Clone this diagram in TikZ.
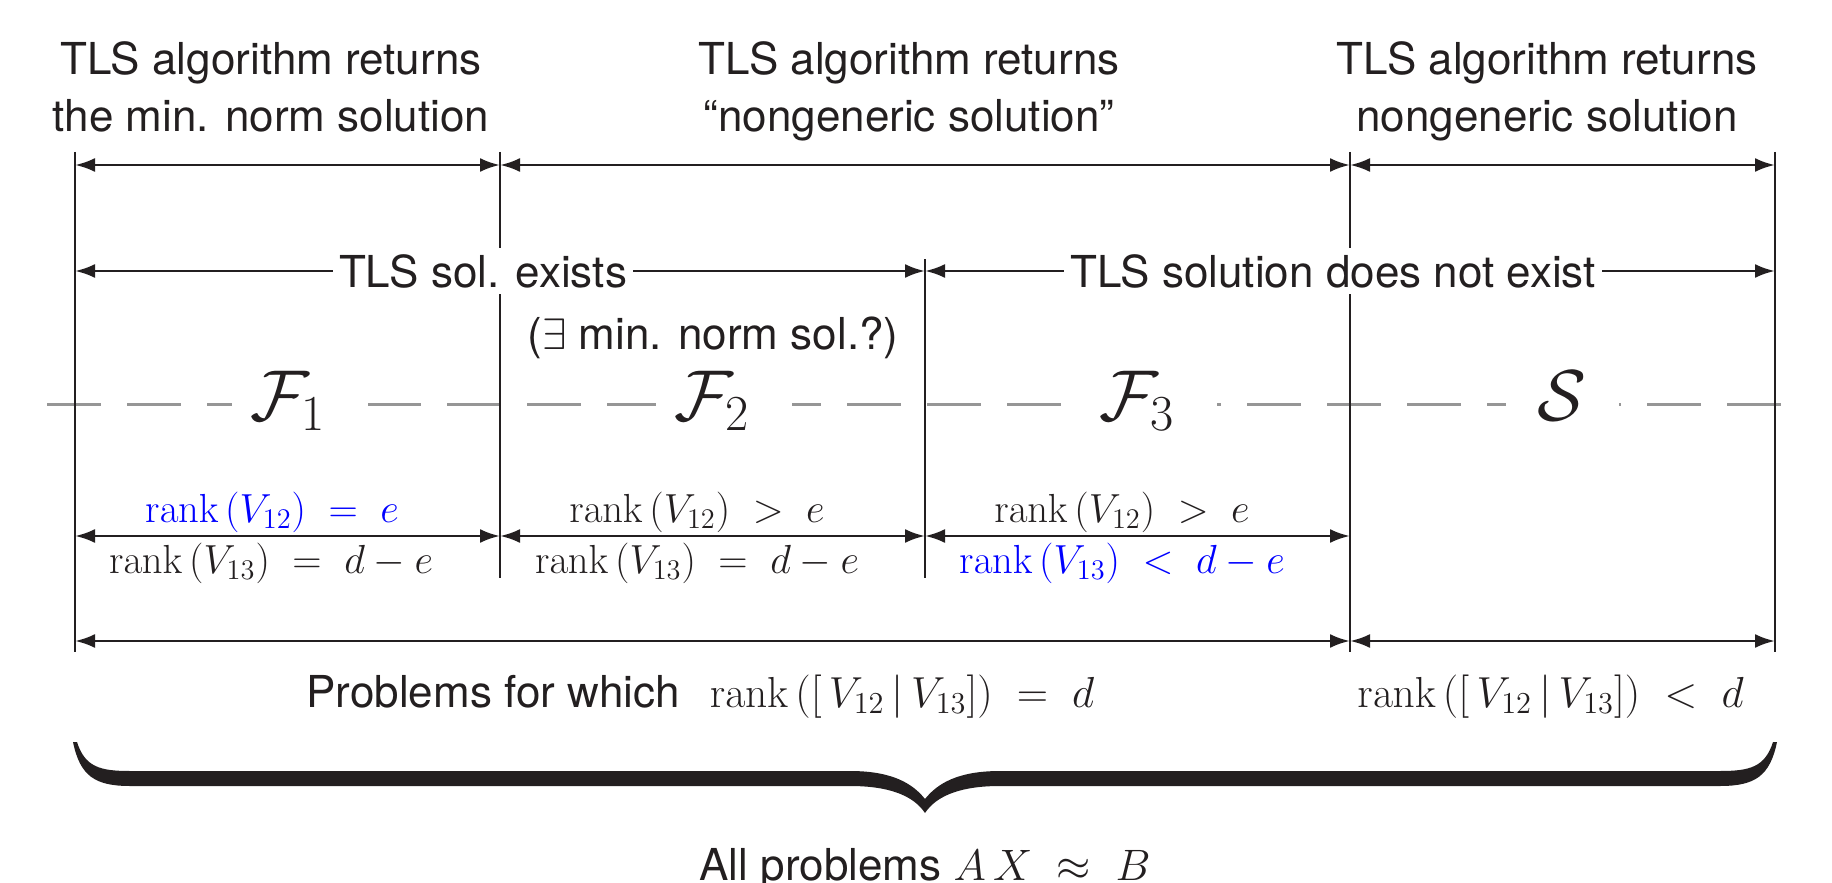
\RequirePackage{fix-cm}
\documentclass[tikz,border=0pt]{standalone}
\usepackage[no-math]{fontspec}
\newfontfamily\hv{TeX Gyre Heros}
\usetikzlibrary{arrows.meta}
\definecolor{ink}{RGB}{35,31,32}
\definecolor{dashgray}{RGB}{150,150,150}
\definecolor{rankblue}{RGB}{0,0,255}
\begin{document}
\begin{tikzpicture}[x=0.5pt,y=-0.5pt,
  vline/.style={line width=1.4pt,draw=ink},
  dimarrow/.style={line width=1.4pt,draw=ink,{Latex[length=10pt,width=7pt]}-{Latex[length=10pt,width=7pt]}},
  sans/.style={font=\hv\fontsize{22}{28.5}\selectfont, text=ink, inner sep=0pt},
  mth/.style={font=\fontsize{20.3}{24}\selectfont, text=ink, inner sep=0pt},
  mthbig/.style={font=\fontsize{21.7}{26}\selectfont, text=ink, inner sep=0pt},
  cal/.style={font=\fontsize{36}{40}\selectfont, text=ink, fill=white, inner xsep=9pt, inner ysep=1pt, anchor=base},
  mask/.style={fill=white, inner xsep=3pt, inner ysep=3pt}]
\useasboundingbox (0,0) rectangle (1832,883);

% dashed middle line
\coordinate (dl) at (47,404);
\coordinate (dr) at (1805,404);
\draw[dashgray, line width=1.5pt, dash pattern=on 27pt off 13pt] (dl) -- (dr);

% vertical lines
\coordinate (v0t) at (75,152);   \coordinate (v0b) at (75,652);
\coordinate (v1t) at (500,152);  \coordinate (v1b) at (500,578);
\coordinate (v2t) at (925,259);  \coordinate (v2b) at (925,578);
\coordinate (v3t) at (1350,152); \coordinate (v3b) at (1350,652);
\coordinate (v4t) at (1775,152); \coordinate (v4b) at (1775,652);
\draw[vline] (v0t) -- (v0b);
\draw[vline] (v1t) -- (v1b);
\draw[vline] (v2t) -- (v2b);
\draw[vline] (v3t) -- (v3b);
\draw[vline] (v4t) -- (v4b);

% row 1
\coordinate (a0) at (75,165);  \coordinate (a1) at (500,165);
\coordinate (a3) at (1350,165); \coordinate (a4) at (1775,165);
\draw[dimarrow] (a0) -- (a1);
\draw[dimarrow] (a1) -- (a3);
\draw[dimarrow] (a3) -- (a4);

% row 2
\coordinate (b0) at (75,271); \coordinate (b2) at (925,271); \coordinate (b4) at (1775,271);
\draw[dimarrow] (b0) -- (b2);
\draw[dimarrow] (b2) -- (b4);
\node[sans,mask] (exists) at (483,271) {TLS sol. exists};
\node[sans,mask] (notexist) at (1333,271) {TLS solution does not exist};
\node[sans,anchor=base] (minnorm) at (713,349) {($\exists$ min. norm sol.?)};

% row 3
\coordinate (c0) at (75,536); \coordinate (c1) at (500,536);
\coordinate (c2) at (925,536); \coordinate (c3) at (1350,536);
\draw[dimarrow] (c0) -- (c1);
\draw[dimarrow] (c1) -- (c2);
\draw[dimarrow] (c2) -- (c3);

% row 4
\coordinate (d0) at (75,641); \coordinate (d3) at (1350,641); \coordinate (d4) at (1775,641);
\draw[dimarrow] (d0) -- (d3);
\draw[dimarrow] (d3) -- (d4);

% top headings
\node[sans,align=center,anchor=north] (h1) at (271,41) {TLS algorithm returns\\the min. norm solution};
\node[sans,align=center,anchor=north] (h2) at (909,41) {TLS algorithm returns\\“nongeneric solution”};
\node[sans,align=center,anchor=north] (h3) at (1547,41) {TLS algorithm returns\\nongeneric solution};

% set labels
\node[cal] (F1) at (300,420) {$\mathcal{F}_1$\kern 12pt};
\node[cal] (F2) at (724,420) {$\mathcal{F}_2$\kern 12pt};
\node[cal] (F3) at (1149,420) {$\mathcal{F}_3$\kern 12pt};
\node[cal,inner xsep=16pt] (S) at (1562,420) {$\mathcal{S}$};

% rank labels
\node[mth,anchor=base,text=rankblue] (r1a) at (272,522) {$\mathrm{rank}\,(V_{12})\;=\;e$};
\node[mth,anchor=base] (r1b) at (271,573) {$\mathrm{rank}\,(V_{13})\;=\;d-e$};
\node[mth,anchor=base] (r2a) at (697,522) {$\mathrm{rank}\,(V_{12})\;>\;e$};
\node[mth,anchor=base] (r2b) at (697,573) {$\mathrm{rank}\,(V_{13})\;=\;d-e$};
\node[mth,anchor=base] (r3a) at (1122,522) {$\mathrm{rank}\,(V_{12})\;>\;e$};
\node[mth,anchor=base,text=rankblue] (r3b) at (1122,573) {$\mathrm{rank}\,(V_{13})\;<\;d-e$};

% bottom labels
\node[mthbig,anchor=base west] (prob) at (306,707) {{\hv\fontsize{22}{26}\selectfont Problems for which}\hskip 15pt$\mathrm{rank}\,([\,V_{12}\,|\,V_{13}])\;=\;d$};
\node[mthbig,anchor=base west] (probS) at (1357,707) {$\mathrm{rank}\,([\,V_{12}\,|\,V_{13}])\;<\;d$};

% brace
\fill[ink] (77,742) .. controls (85,767) and (100,771) .. (130,771) -- (850,771)
  .. controls (893,771) and (913,784) .. (925,799)
  .. controls (937,784) and (957,771) .. (1000,771) -- (1720,771)
  .. controls (1750,771) and (1765,767) .. (1773,742)
  -- (1777,742) .. controls (1770,776) and (1755,786) .. (1720,786) -- (1000,786)
  .. controls (962,786) and (937,795) .. (925,813)
  .. controls (913,795) and (888,786) .. (850,786) -- (130,786)
  .. controls (95,786) and (80,776) .. (73,742) -- cycle;

\node[sans,anchor=base] (all) at (925,880) {All problems $A\,X\;\approx\;B$};
\end{tikzpicture}
\end{document}
